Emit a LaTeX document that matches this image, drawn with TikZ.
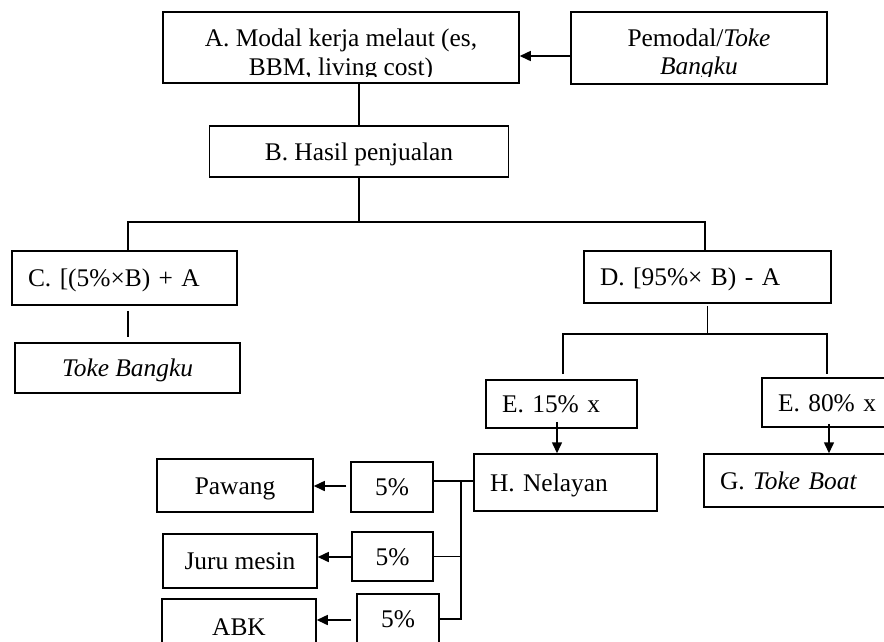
\documentclass[tikz,border=0pt]{standalone}
\usepackage{fontspec}
\setmainfont{Liberation Serif}
\usetikzlibrary{arrows.meta,calc}
\begin{document}
\begin{tikzpicture}[x=1pt,y=-1pt,
  line width=1.5pt,
  every node/.style={font=\fontsize{25.4}{29}\selectfont},
  box/.style={draw, inner sep=0pt, text height=19pt, text depth=2pt},
  lbox/.style={box, align=left, inner xsep=16pt},
  arr/.style={-{Triangle[length=11pt,width=10pt]}}]
\useasboundingbox (0,0) rectangle (884,641);
\clip (0,0) rectangle (884,641);

% boxes
\node[box, minimum width=356pt, minimum height=71pt] (A) at (341,47.5) {};
\node[box, minimum width=256pt, minimum height=72pt] (P) at (699,48) {};
\begin{scope}
  \clip (163,12) rectangle (827,76.5);
  \node[anchor=base] (A1) at (341,46) {A. Modal kerja melaut (es,};
  \node[anchor=base] (A2) at (341,75) {BBM, living cost)};
  \node[anchor=base] (P1) at (699,46) {Pemodal/\textit{Toke}};
  \node[anchor=base] (P2) at (699,74) {\textit{Bangku}};
\end{scope}

\node[box, minimum width=299pt, minimum height=51pt] (B) at (359,151.5) {B. Hasil penjualan};
\node[lbox, text width=193pt, minimum height=54pt] (C) at (124.5,278) {C. [(5\%×B) + A};
\node[box, minimum width=225pt, minimum height=50pt] (TB) at (127.5,368) {\textit{Toke Bangku}};
\node[lbox, text width=215pt, minimum height=52pt] (D) at (707.5,277) {D. [95\%× B) - A};
\node[lbox, text width=119pt, minimum height=48pt] (E1) at (561.5,404) {E. 15\% x};
\node[lbox, text width=119pt, minimum height=49pt] (E2) at (837.5,402.5) {E. 80\% x};
\node[lbox, text width=151pt, minimum height=57pt] (H) at (565.5,482.5) {H. Nelayan};
\node[lbox, text width=168pt, minimum height=53pt] (G) at (804,480.5) {G. \textit{Toke Boat}};

\node[box, minimum width=82pt, minimum height=50pt] (Q1) at (392,487) {5\%};
\node[box, minimum width=81pt, minimum height=49pt] (Q2) at (392.5,556.5) {5\%};
\node[box, minimum width=82pt, minimum height=50pt] (Q3) at (398,619) {5\%};
\node[box, minimum width=156pt, minimum height=53pt] (W) at (235,485.5) {Pawang};
\node[box, minimum width=154pt, minimum height=54pt] (J) at (240,561) {Juru mesin};
\node[box, minimum width=154pt, minimum height=54pt, text height=18pt, text depth=0pt] (K) at (239,626) {ABK};

% connectors
\coordinate (pa) at ($(P.west)+(0,8)$);
\draw[arr] (pa) -- (pa -| A.east);
\draw (A.south -| B.north) -- (B.north);

\coordinate (bl) at (128,222);
\coordinate (br) at (705,222);
\draw (B.south) -- (B.south |- bl);
\draw (bl |- C.north) -- (bl) -- (br) -- (br |- D.north);
\draw ($(C.south)+(3.5,5)$) -- ($(TB.north)+(0.5,-5)$);

\coordinate (dl) at (563,334);
\coordinate (dr) at (827,334);
\coordinate (dlb) at (563,374);
\coordinate (drb) at (827,374);
\draw ($(D.south)+(0,2)$) -- (D.south |- dl);
\draw (dlb) -- (dl) -- (dr) -- (drb);

\coordinate (e1s) at ($(E1.south)+(-4.5,-7)$);
\draw[arr] (e1s) -- (e1s |- H.north);
\coordinate (e2s) at ($(E2.south)+(-8.5,-4)$);
\draw[arr] (e2s) -- (e2s |- G.north);

\coordinate (bus) at (461,481);
\coordinate (busb) at (461,619);
\draw (H.west |- bus) -- (bus -| Q1.east);
\draw (bus) -- (busb) -- (busb -| Q3.east);
\draw (Q2.east) -- (Q2.east -| bus);

\coordinate (q1a) at ($(Q1.west)+(-4,-1)$);
\draw[arr] (q1a) -- (q1a -| W.east);
\coordinate (q2a) at ($(Q2.west)+(0,0.5)$);
\draw[arr] (q2a) -- (q2a -| J.east);
\coordinate (q3a) at ($(Q3.west)+(-5,1)$);
\draw[arr] (q3a) -- (q3a -| K.east);
\end{tikzpicture}
\end{document}
